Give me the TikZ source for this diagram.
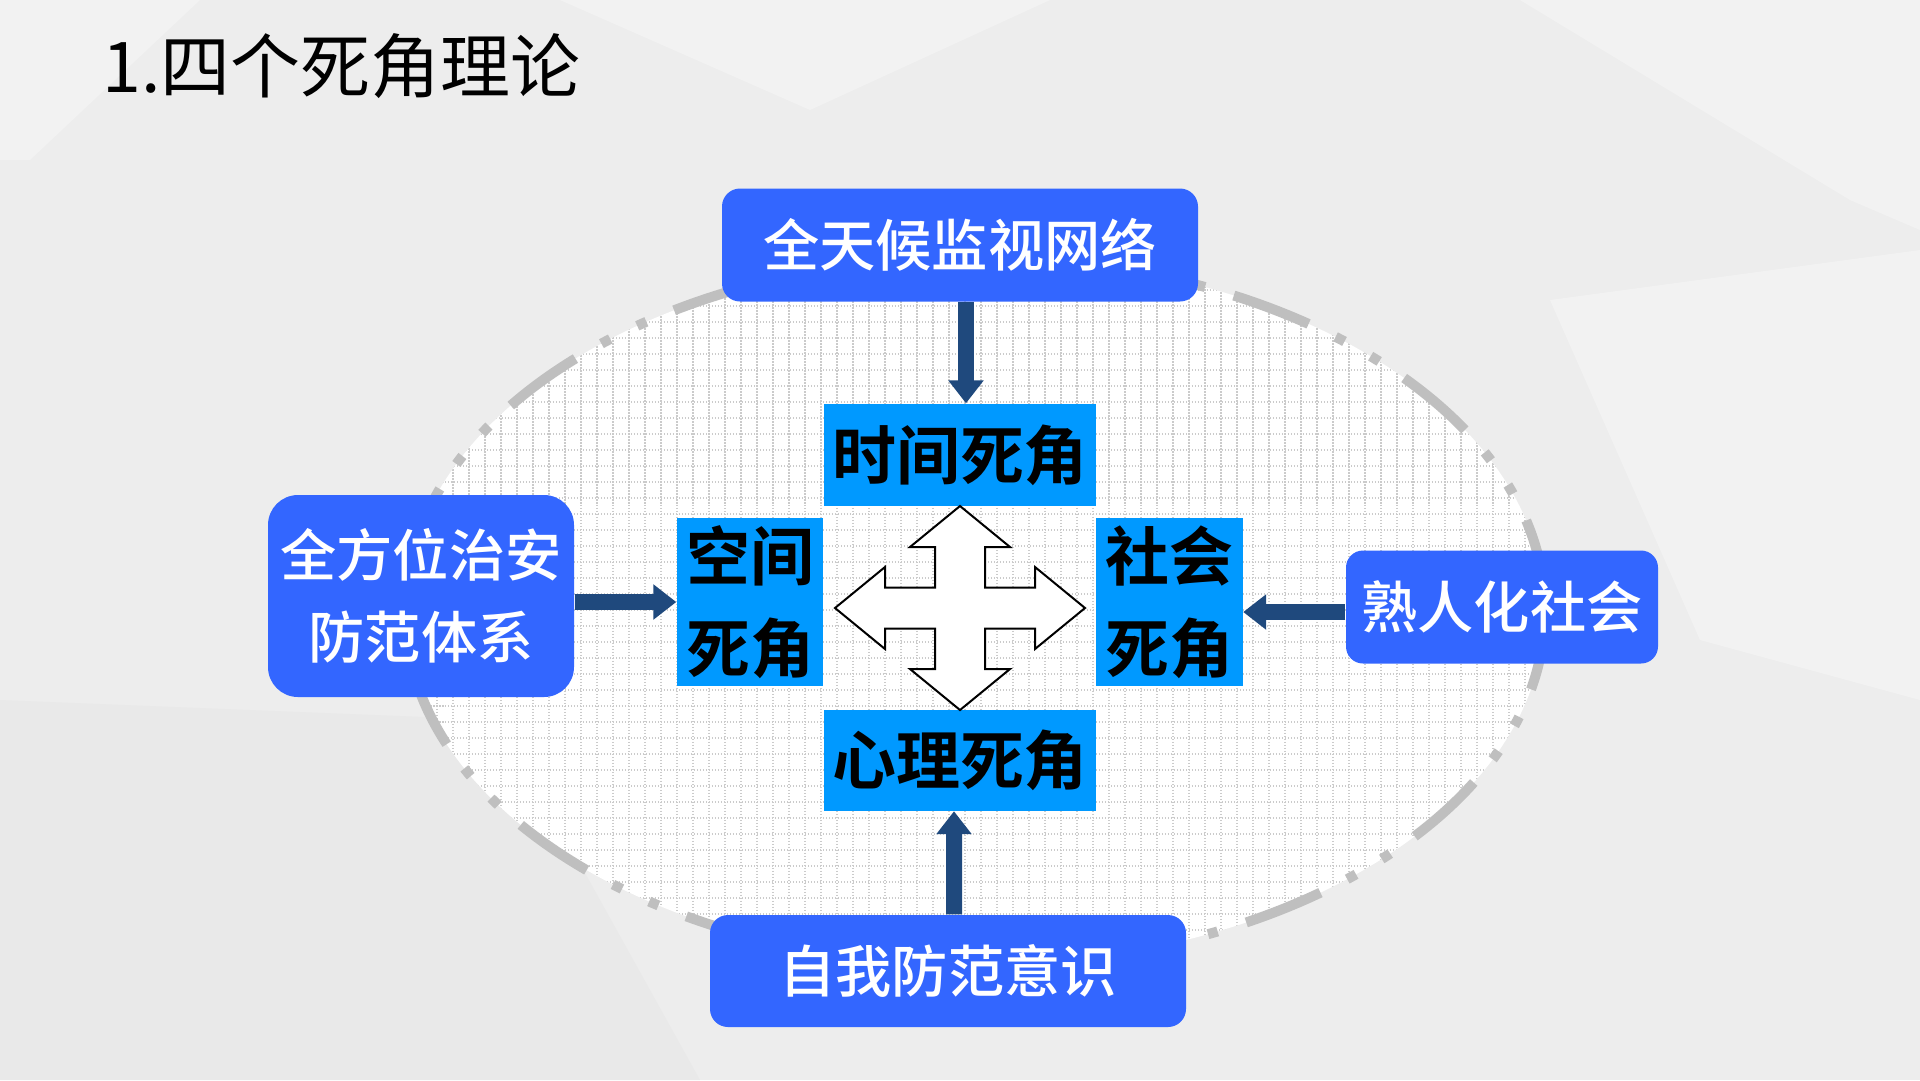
\documentclass[tikz,border=0pt]{standalone}
\usepackage{fontspec}
\setmainfont{Noto Sans CJK SC}[BoldFont={Noto Sans CJK SC Bold}]
\newfontfamily\medfont{Noto Sans CJK SC Medium}
\usetikzlibrary{arrows.meta}

\definecolor{boxblue}{HTML}{3366FF}
\definecolor{cornerblue}{HTML}{0099FF}
\definecolor{linkblue}{HTML}{1F497D}
\definecolor{rimgray}{HTML}{BFBFBF}
\definecolor{gridgray}{HTML}{CBCBCB}
\definecolor{paper}{HTML}{EDEDED}
\definecolor{facetlight}{HTML}{F2F2F2}
\definecolor{facetdark}{HTML}{E9E9E9}

\tikzset{
  outerbox/.style={fill=boxblue, text=white, rounded corners=1.8mm, inner sep=0pt,
    font=\medfont\fontsize{16}{23.3}\selectfont, align=center},
  deadbox/.style={fill=cornerblue, text=black, inner sep=0pt,
    font=\fontsize{18.2}{26.2}\selectfont\bfseries, align=center},
  link/.style={draw=linkblue, line width=1.6mm, -{Triangle[length=2.3mm,width=3.4mm]}},
  gridline/.style={draw=gridgray, line width=0.15mm, dash pattern=on 0.15mm off 0.15mm},
  rim/.style={draw=rimgray, line width=1mm,
    dash pattern=on 8mm off 3mm on 1mm off 3mm on 1mm off 3mm},
}

\begin{document}
\begin{tikzpicture}[x=0.1mm, y=-0.1mm]
  % page and background facets
  \fill[paper] (0,0) rectangle (1920,1080);
  \useasboundingbox (0,0) rectangle (1920,1080);
  \fill[facetlight] (0,0) -- (200,0) -- (30,160) -- (0,160) -- cycle;
  \fill[facetlight] (560,0) -- (1050,0) -- (810,110) -- cycle;
  \fill[facetlight] (1520,0) -- (1920,0) -- (1920,230) -- (1850,200) -- cycle;
  \fill[facetlight] (1550,300) -- (1920,250) -- (1920,700) -- (1700,640) -- cycle;
  \fill[facetdark] (0,700) -- (500,720) -- (700,1080) -- (0,1080) -- cycle;

  % title
  \node[anchor=west, inner sep=0pt, font=\fontsize{19.9}{24}\selectfont] (title) at (102,66) {1.四个死角理论};

  % the dotted field
  \fill[white] (975,611) ellipse [x radius=570, y radius=354];
  \begin{scope}
    \clip (975,611) ellipse [x radius=570, y radius=354];
    \foreach \gx in {405,421,...,1549}
      \draw[gridline] (\gx,250) -- (\gx,970);
    \foreach \gy in {258,274,...,970}
      \draw[gridline] (400,\gy) -- (1550,\gy);
  \end{scope}
  \draw[rim] (975,611) ellipse [x radius=570, y radius=354];

  % outer measures
  \node[outerbox, minimum width=47.6mm, minimum height=11.3mm] (watch) at (960,245) {全天候监视网络};
  \node[outerbox, rounded corners=3mm, minimum width=30.6mm, minimum height=20.2mm] (guard) at (421,596) {全方位治安\\防范体系};
  \node[outerbox, rounded corners=1.7mm, minimum width=31.2mm, minimum height=11.3mm] (kin) at (1502,607) {熟人化社会};
  \node[outerbox, minimum width=47.6mm, minimum height=11.2mm] (selfcare) at (948,971) {自我防范意识};

  % the four dead corners
  \node[deadbox, minimum width=27.2mm, minimum height=10.2mm] (timedead) at (960,455) {时间死角};
  \node[deadbox, minimum width=14.6mm, minimum height=16.8mm] (spacedead) at (750,602) {空间\\死角};
  \node[deadbox, minimum width=14.7mm, minimum height=16.8mm] (socialdead) at (1169,602) {社会\\死角};
  \node[deadbox, minimum width=27.2mm, minimum height=10.1mm] (minddead) at (960,760) {心理死角};

  % connectors
  \draw[link] ([xshift=0.6mm]watch.south) -- ([xshift=0.6mm]timedead.north);
  \draw[link] (spacedead.west -| guard.east) -- (spacedead.west);
  \draw[link] ([yshift=-1mm]socialdead.east -| kin.west) -- ([yshift=-1mm]socialdead.east);
  \draw[link] ([xshift=0.6mm]selfcare.north) -- ([xshift=-0.6mm]minddead.south);

  % four-way arrow in the middle
  \coordinate (hub) at (960,608);
  \draw[fill=white, line width=0.2mm, shift={(hub)}]
    (0,-102) -- (50,-61) -- (25,-61) -- (25,-20.5) -- (75,-20.5) -- (75,-41) --
    (125,0) -- (75,41) -- (75,20.5) -- (25,20.5) -- (25,61) -- (50,61) --
    (0,102) -- (-50,61) -- (-25,61) -- (-25,20.5) -- (-75,20.5) -- (-75,41) --
    (-125,0) -- (-75,-41) -- (-75,-20.5) -- (-25,-20.5) -- (-25,-61) -- (-50,-61) -- cycle;
\end{tikzpicture}
\end{document}
